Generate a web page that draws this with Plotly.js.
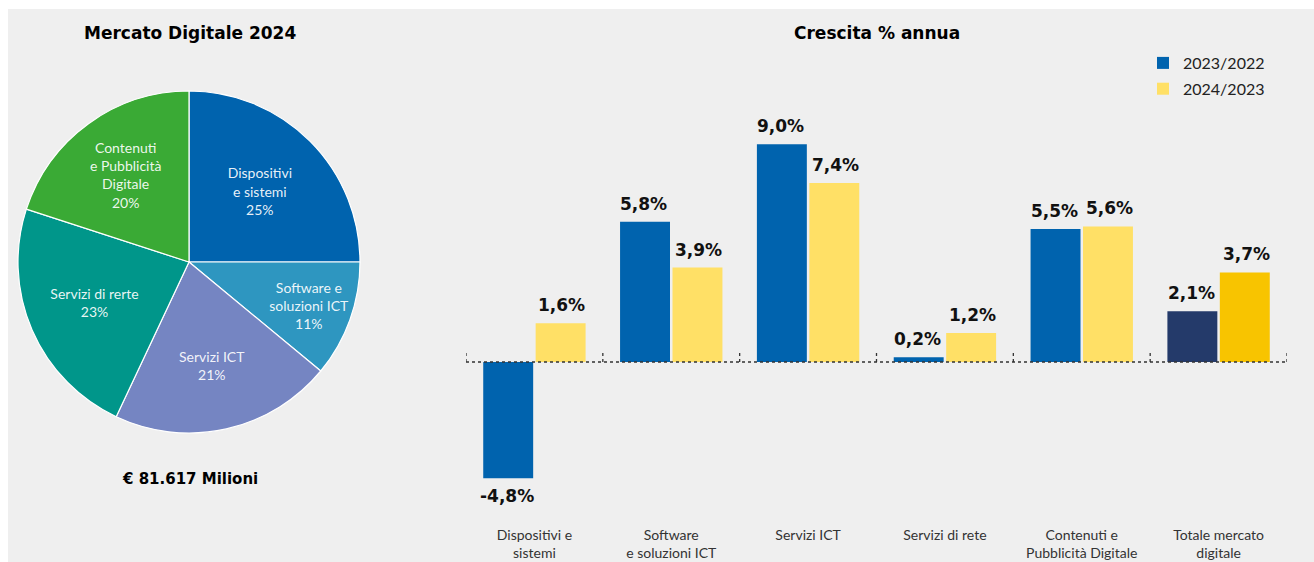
<!DOCTYPE html>
<html>
<head>
<meta charset="utf-8">
<script src="https://cdn.plot.ly/plotly-3.0.1.min.js"></script>
<style>html,body{margin:0;padding:0;background:#fff;}#chart{width:1314px;height:562px;}</style>
</head>
<body>
<div id="chart"></div>
<script>
// ---- Pie data: Mercato Digitale 2024 ----
const pieLabels = ["Dispositivi<br>e sistemi", "Software e<br>soluzioni ICT", "Servizi ICT", "Servizi di rerte", "Contenuti<br>e Pubblicità<br>Digitale"];
const pieShares = [25, 11, 21, 23, 20];
const pieColors = ["#0063AE", "#2E96C0", "#7585C2", "#00968A", "#3AAA35"];

// ---- Bar data: Crescita % annua ----
const categories = ["Dispositivi e<br>sistemi", "Software<br>e soluzioni ICT", "Servizi ICT", "Servizi di rete", "Contenuti e<br>Pubblicità Digitale", "Totale mercato<br>digitale"];
const series1Name = "2023/2022";
const series2Name = "2024/2023";
const growth2023 = [-4.8, 5.8, 9.0, 0.2, 5.5, 2.1];
const growth2024 = [1.6, 3.9, 7.4, 1.2, 5.6, 3.7];
const colors2023 = ["#0063AE", "#0063AE", "#0063AE", "#0063AE", "#0063AE", "#243A6A"];
const colors2024 = ["#FFE066", "#FFE066", "#FFE066", "#FFE066", "#FFE066", "#F8C400"];

const W = 1314, H = 562;
const px = v => v / W;
const py = v => (H - v) / H;
const FONT = "Lato, 'Open Sans', sans-serif";
const BOLD = "'DejaVu Sans', Lato, sans-serif";

const pie = {
  type: "pie",
  labels: pieLabels,
  values: pieShares,
  text: pieLabels.map((l, i) => l + "<br>" + pieShares[i] + "%"),
  textinfo: "text",
  textposition: "inside",
  insidetextorientation: "horizontal",
  textfont: {family: FONT, size: 14, color: "rgba(255,255,255,0.92)"},
  marker: {colors: pieColors, line: {color: "#ffffff", width: 1.2}},
  sort: false,
  direction: "clockwise",
  rotation: 0,
  showlegend: false,
  hoverinfo: "label+percent",
  domain: {x: [px(18), px(360)], y: [py(433), py(91)]}
};

const bar1 = {
  type: "bar", name: series1Name, x: categories, y: growth2023, legendgroup: "a",
  marker: {color: colors2023}, xaxis: "x", yaxis: "y"
};
const bar2 = {
  type: "bar", name: series2Name, x: categories, y: growth2024, legendgroup: "b",
  marker: {color: colors2024}, xaxis: "x", yaxis: "y"
};

const fmt = v => v.toFixed(1).replace(".", ",") + "%";
const annotations = [];
[[growth2023, -27.5], [growth2024, 27.5]].forEach(([vals, dx]) => {
  vals.forEach((v, i) => {
    annotations.push({
      x: categories[i], y: v, xref: "x", yref: "y", text: "<b>" + fmt(v) + "</b>",
      showarrow: false, xshift: dx, yshift: v >= 0 ? 18 : -18,
      font: {family: BOLD, size: 17, color: "#111"}
    });
  });
});
annotations.push(
  {text: "<b>Mercato Digitale 2024</b>", x: px(190), y: py(33), xref: "paper", yref: "paper", xanchor: "center", yanchor: "middle", showarrow: false, font: {family: BOLD, size: 17, color: "#000"}},
  {text: "<b>Crescita % annua</b>", x: px(877), y: py(33), xref: "paper", yref: "paper", xanchor: "center", yanchor: "middle", showarrow: false, font: {family: BOLD, size: 17, color: "#000"}},
  {text: "<b>€ 81.617 Milioni</b>", x: px(190), y: py(479), xref: "paper", yref: "paper", xanchor: "center", yanchor: "middle", showarrow: false, font: {family: BOLD, size: 15, color: "#000"}}
);

const shapes = [
  {type: "rect", xref: "paper", yref: "paper", x0: px(8), x1: 1, y0: 0, y1: py(9), fillcolor: "#EFEFEF", line: {width: 0}, layer: "below"},
  {type: "line", xref: "x", yref: "y", x0: -0.5, x1: categories.length - 0.5, y0: 0, y1: 0, line: {color: "#333", width: 1.3, dash: "dot"}, layer: "above"}
];
for (let i = 0; i <= categories.length; i++) {
  shapes.push({type: "line", xref: "x", yref: "y", ysizemode: "pixel", yanchor: 0,
    x0: i - 0.5, x1: i - 0.5, y0: 0, y1: 9, line: {color: "#333", width: 1.3, dash: "dot"}});
}

const layout = {
  width: W, height: H,
  margin: {l: 0, r: 0, t: 0, b: 0},
  paper_bgcolor: "#ffffff",
  plot_bgcolor: "rgba(0,0,0,0)",
  font: {family: FONT, color: "#222"},
  barmode: "group",
  bargap: 0.2336,
  bargroupgap: 0.0476,
  uniformtext: {minsize: 14, mode: "show"},
  xaxis: {domain: [px(466), px(1287)], range: [-0.5, categories.length - 0.5], showline: false, showgrid: false, zeroline: false, ticks: "",
    tickfont: {family: FONT, size: 14, color: "#333"}, fixedrange: true},
  yaxis: {domain: [py(525), py(100)], range: [-(525 - 362) / 24.2, (362 - 100) / 24.2], showgrid: false, zeroline: false, showticklabels: false, showline: false, fixedrange: true},
  legend: {x: px(1143), y: py(46), xanchor: "left", yanchor: "top", bgcolor: "rgba(0,0,0,0)", traceorder: "grouped", tracegroupgap: 2,
    font: {family: FONT, size: 16, color: "#222"}, itemwidth: 30},
  annotations: annotations,
  shapes: shapes
};

Plotly.newPlot("chart", [pie, bar1, bar2], layout, {displayModeBar: false, staticPlot: true});
</script>
</body>
</html>
